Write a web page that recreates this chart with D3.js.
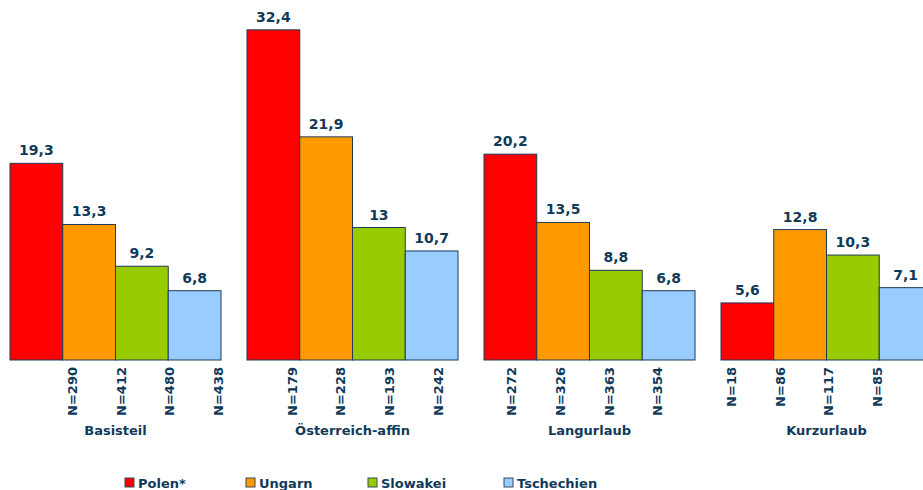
<html>
<head>
<meta charset="utf-8">
<style>
  body { margin: 0; background: #fff; }
  text { font-family: "DejaVu Sans", Verdana, sans-serif; font-weight: bold; fill: #103a5a; }
</style>
</head>
<body>
<svg id="chart" width="923" height="490"></svg>
<script src="https://cdn.jsdelivr.net/npm/d3@7"></script>
<script>
  // data
  let groups = ["Basisteil", "Österreich-affin", "Langurlaub", "Kurzurlaub"]
  let countries = ["Polen*", "Ungarn", "Slowakei", "Tschechien"]
  let colors = ["#ff0000", "#ff9900", "#99cc00", "#99ccff"]

  let polen = [19.3, 32.4, 20.2, 5.6]
  let ungarn = [13.3, 21.9, 13.5, 12.8]
  let slowakei = [9.2, 13, 8.8, 10.3]
  let tschechien = [6.8, 10.7, 6.8, 7.1]

  let nPolen = [null, 179, 272, 18]
  let nUngarn = [290, 228, 326, 86]
  let nSlowakei = [412, 193, 363, 117]
  let nTschechien = [480, 242, 354, 85]
  let nExtra = [438, null, null, null]

  let series = [polen, ungarn, slowakei, tschechien]

  let svg = d3.select("#chart")
  let fmt = v => String(v).replace(".", ",")

  let x0 = d3.scaleBand().domain(groups).range([10, 932]).paddingInner(26 / 237)
  let x1 = d3.scaleBand().domain(countries).range([0, x0.bandwidth()])
  let y = d3.scaleLinear().domain([0, 35]).range([360, 3.35])

  // rows of bars
  let bars = []
  groups.forEach((g, gi) => {
    countries.forEach((c, ci) => {
      bars.push({ group: g, country: c, color: colors[ci], value: series[ci][gi] })
    })
  })

  let gBars = svg.append("g")
  gBars.selectAll("rect")
    .data(bars)
    .enter()
    .append("rect")
      .attr("x", d => x0(d.group) + x1(d.country))
      .attr("y", d => y(d.value))
      .attr("width", x1.bandwidth())
      .attr("height", d => y(0) - y(d.value))
      .attr("fill", d => d.color)
      .attr("stroke", "#1d3b58")
      .attr("stroke-width", 1)

  gBars.selectAll("text")
    .data(bars)
    .enter()
    .append("text")
      .attr("x", d => x0(d.group) + x1(d.country) + x1.bandwidth() / 2)
      .attr("y", d => y(d.value) - 8)
      .attr("text-anchor", "middle")
      .attr("font-size", 14)
      .text(d => fmt(d.value))

  // N labels sit on their own, tighter spacing
  let nLabels = []
  let nRows = [nPolen, nUngarn, nSlowakei, nTschechien, nExtra]
  groups.forEach((g, gi) => {
    let list = nRows.map(r => r[gi]).filter(v => v != null)
    list.forEach((v, i) => nLabels.push({ group: g, slot: i, n: v }))
  })

  let xl0 = d3.scaleBand().domain(groups).range([72, 72 + 4 * 219.7])
  let xl1 = d3.scaleLinear().domain([0, 3]).range([0, 146])

  svg.append("g")
    .selectAll("text")
    .data(nLabels)
    .enter()
    .append("text")
      .attr("transform", d => `translate(${xl0(d.group) + xl1(d.slot) + 5},367) rotate(-90)`)
      .attr("text-anchor", "end")
      .attr("font-size", 13)
      .text(d => "N=" + d.n)

  svg.append("g")
    .selectAll("text")
    .data(groups)
    .enter()
    .append("text")
      .attr("x", d => x0(d) + x0.bandwidth() / 2)
      .attr("y", 435)
      .attr("text-anchor", "middle")
      .attr("font-size", 13)
      .text(d => d)

  // legend
  let legendX = [125, 246, 368, 504]
  let legend = svg.append("g")
    .selectAll("g")
    .data(countries)
    .enter()
    .append("g")
      .attr("transform", (d, i) => `translate(${legendX[i]},478)`)

  legend.append("rect")
    .attr("width", 9)
    .attr("height", 9)
    .attr("fill", (d, i) => colors[i])
    .attr("stroke", "#3a4a5a")

  legend.append("text")
    .attr("x", 13)
    .attr("y", 10)
    .attr("font-size", 13)
    .text(d => d)
</script>
</body>
</html>
